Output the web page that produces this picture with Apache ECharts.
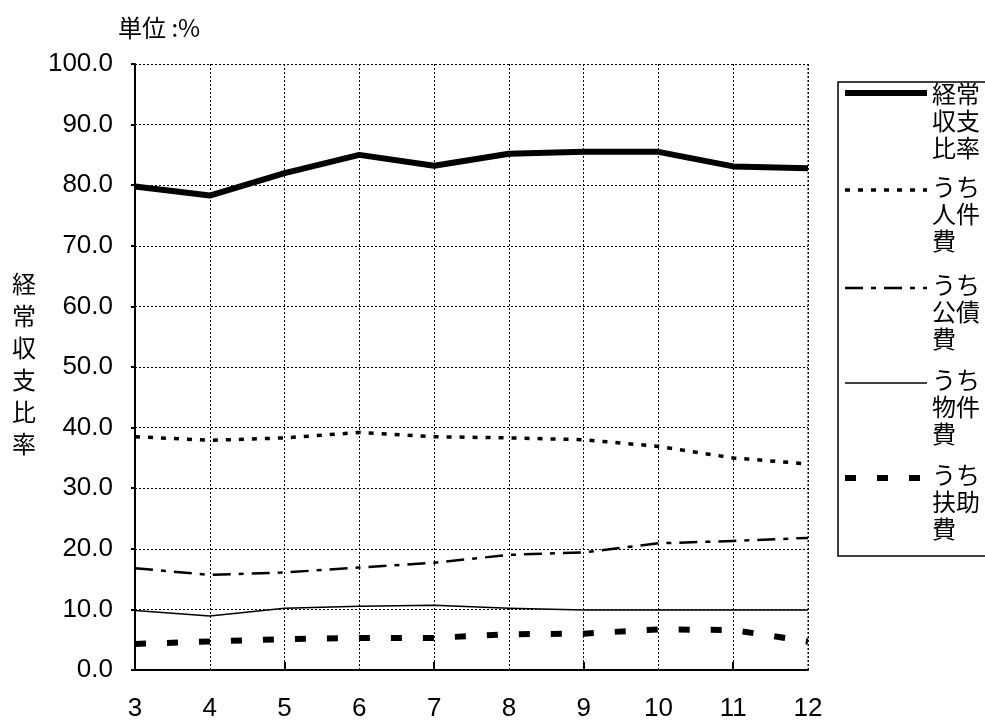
<!DOCTYPE html>
<html>
<head>
<meta charset="utf-8">
<script src="https://cdn.jsdelivr.net/npm/echarts@6/dist/echarts.min.js"></script>
<style>
  html, body { margin: 0; padding: 0; background: #fff; }
  #chart { width: 985px; height: 722px; }
</style>
</head>
<body>
<div id="chart"></div>
<script>
// 年度（平成）
const years = ['3', '4', '5', '6', '7', '8', '9', '10', '11', '12'];

// 経常収支比率と内訳（%）
const keijouShushi = [79.8, 78.3, 82.0, 85.0, 83.2, 85.2, 85.5, 85.5, 83.1, 82.8];
const jinkenhi     = [38.5, 37.9, 38.3, 39.2, 38.5, 38.3, 38.0, 36.9, 35.0, 34.0];
const kousaihi     = [16.8, 15.7, 16.1, 16.9, 17.7, 19.0, 19.4, 20.9, 21.3, 21.8];
const bukkenhi     = [9.8, 8.9, 10.2, 10.5, 10.7, 10.2, 9.9, 9.9, 9.9, 9.9];
const fujohi       = [4.3, 4.7, 5.1, 5.3, 5.3, 5.9, 6.0, 6.7, 6.6, 4.7];

const seriesNames = ['経常収支比率', 'うち人件費', 'うち公債費', 'うち物件費', 'うち扶助費'];
const legendLabels = ['経常\n収支\n比率', 'うち\n人件\n費', 'うち\n公債\n費', 'うち\n物件\n費', 'うち\n扶助\n費'];

const FONT = '"Liberation Sans", Arial, "Noto Sans CJK JP", sans-serif';
const CJK = '"Noto Sans CJK JP", sans-serif';

const styles = [
  { width: 6, type: 'solid' },
  { width: 3.5, type: [5, 8] },
  { width: 2.5, type: [18, 8, 5, 8] },
  { width: 1.5, type: 'solid' },
  { width: 6, type: [11, 21] }
];
const dataSets = [keijouShushi, jinkenhi, kousaihi, bukkenhi, fujohi];

// legend box drawn with graphic elements
const legendLineY = [93, 190, 288, 383, 478];
const legendGraphics = [{
  type: 'rect',
  shape: { x: 838, y: 82, width: 160, height: 474 },
  style: { fill: '#fff', stroke: '#000', lineWidth: 1.5 },
  z: 10
}];
legendLineY.forEach((y, i) => {
  legendGraphics.push({
    type: 'line',
    shape: { x1: 845, y1: y, x2: 927, y2: y },
    style: { stroke: '#000', lineWidth: styles[i].width, lineDash: styles[i].type === 'solid' ? null : styles[i].type },
    z: 11
  });
  legendGraphics.push({
    type: 'text',
    x: 932, y: y - (i === 0 ? 13 : 17),
    style: { text: legendLabels[i], font: '24px ' + CJK, fill: '#000', lineHeight: 27 },
    z: 11
  });
});

const chart = echarts.init(document.getElementById('chart'), null, { renderer: 'canvas' });
chart.setOption({
  animation: false,
  backgroundColor: '#fff',
  grid: { left: 135, right: 177, top: 64, bottom: 50, containLabel: false },
  xAxis: {
    type: 'category',
    data: years,
    boundaryGap: false,
    axisLine: { lineStyle: { color: '#000', width: 2 } },
    axisTick: {
      inside: true, length: 8,
      lineStyle: { color: '#000', width: 2 },
      interval: (idx) => idx > 0 && idx < 9 && idx % 2 === 0
    },
    axisLabel: { color: '#000', fontSize: 26, fontFamily: FONT, margin: 26 },
    splitLine: { show: true, interval: 0, lineStyle: { color: '#000', type: [2, 2], width: 1 } }
  },
  yAxis: {
    type: 'value',
    min: 0, max: 100, interval: 10,
    axisLine: { show: true, lineStyle: { color: '#000', width: 2 } },
    axisTick: { show: true, length: 4, lineStyle: { color: '#000', width: 2 } },
    axisLabel: { color: '#000', fontSize: 26, fontFamily: FONT, margin: 22, formatter: v => v.toFixed(1) },
    splitLine: { show: true, lineStyle: { color: '#000', type: [2, 2], width: 1 } }
  },
  graphic: [
    {
      type: 'text', left: 118, top: 16,
      style: { text: '単位 :%', font: '24px ' + CJK, fill: '#000' }
    },
    {
      type: 'text', left: 12, top: 268,
      style: { text: '経\n常\n収\n支\n比\n率', font: '24px ' + CJK, fill: '#000', lineHeight: 32 }
    },
    {
      type: 'line',
      shape: { x1: 808, y1: 64, x2: 808, y2: 672 },
      style: { stroke: '#000', lineWidth: 1, lineDash: [2, 2] }
    }
  ].concat(legendGraphics),
  series: seriesNames.map((name, i) => ({
    name,
    type: 'line',
    data: dataSets[i],
    symbol: 'none',
    lineStyle: { color: '#000', width: styles[i].width, type: styles[i].type, cap: 'butt', join: 'round' },
    z: 5 - i + 2
  }))
});
</script>
</body>
</html>
